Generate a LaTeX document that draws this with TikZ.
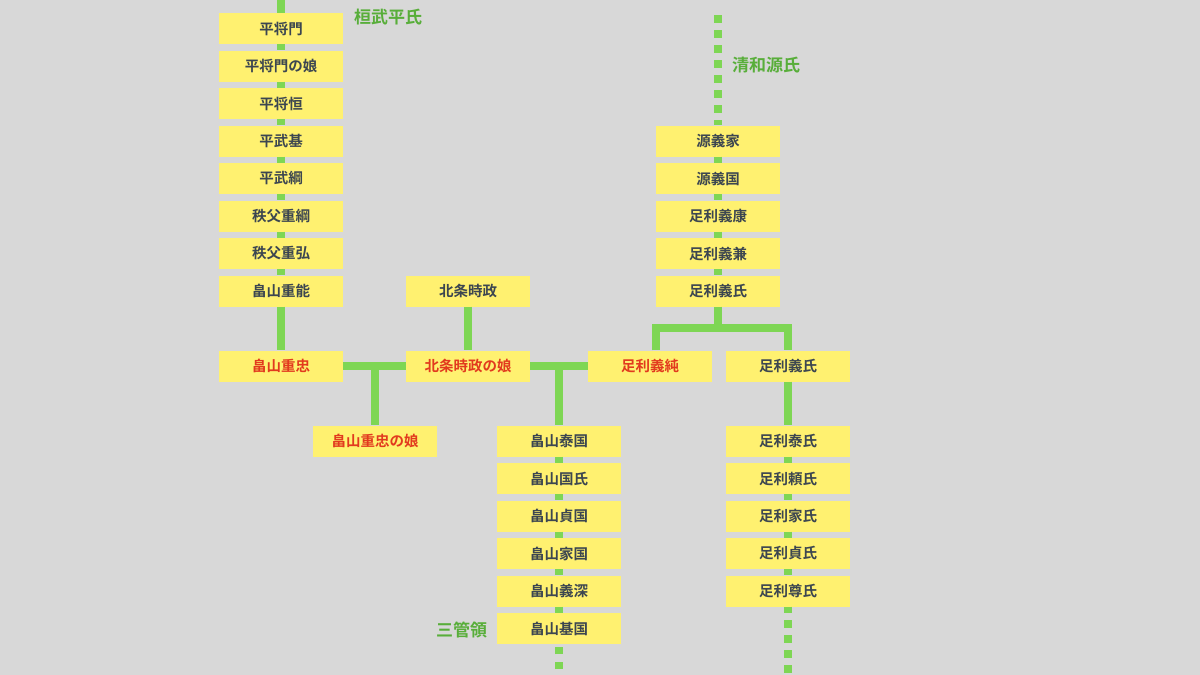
\documentclass[tikz,border=0pt]{standalone}
\usepackage{fontspec}
\setmainfont{Noto Sans CJK JP}[BoldFont={Noto Sans CJK JP Bold}]
\definecolor{bggrey}{RGB}{216,216,216}
\definecolor{boxyellow}{RGB}{255,241,112}
\definecolor{linegreen}{RGB}{126,214,84}
\definecolor{labelgreen}{RGB}{88,174,58}
\definecolor{namegrey}{RGB}{60,70,80}
\definecolor{namered}{RGB}{226,58,30}
\begin{document}
\begin{tikzpicture}[x=1pt, y=-1pt,
	person/.style={rectangle, fill=boxyellow, minimum width=124pt, minimum height=31pt, inner sep=0pt, text=namegrey, font=\bfseries\fontsize{14.5}{16}\selectfont},
	keyperson/.style={person, text=namered},
	clan/.style={anchor=west, inner sep=0pt, text=labelgreen, font=\bfseries\fontsize{17}{19}\selectfont},
	line/.style={draw=linegreen, line width=7.5pt},
	dotline/.style={line, dash pattern=on 7.5pt off 7.5pt}]
	\fill [bggrey] (0,0) rectangle (1200,675);
	\useasboundingbox (0,0) rectangle (1200,675);
	% Taira line
	\node [person] (hk1) at (281,28.5) {平将門};
	\node [person] (hk2) at (281,66) {平将門の娘};
	\node [person] (hk3) at (281,103.5) {平将恒};
	\node [person] (hk4) at (281,141) {平武基};
	\node [person] (hk5) at (281,178.5) {平武綱};
	\node [person] (hk6) at (281,216) {秩父重綱};
	\node [person] (hk7) at (281,253.5) {秩父重弘};
	\node [person] (hk8) at (281,291) {畠山重能};
	\node [keyperson] (shigetada) at (281,366) {畠山重忠};
	\node [keyperson] (smusume) at (375,441) {畠山重忠の娘};
	\node [clan] (kanmu) at (354,17) {桓武平氏};
	% Hojo
	\node [person] (tokimasa) at (468,291) {北条時政};
	\node [keyperson] (tmusume) at (468,366) {北条時政の娘};
	% Minamoto line
	\node [person] (gj1) at (718,141) {源義家};
	\node [person] (gj2) at (718,178.5) {源義国};
	\node [person] (gj3) at (718,216) {足利義康};
	\node [person] (gj4) at (718,253.5) {足利義兼};
	\node [person] (gj5) at (718,291) {足利義氏};
	\node [keyperson] (yoshizumi) at (650,366) {足利義純};
	\node [person] (yoshiuji) at (788,366) {足利義氏};
	\node [clan] (seiwa) at (732,65) {清和源氏};
	% Hatakeyama (Genji)
	\node [person] (hy1) at (559,441) {畠山泰国};
	\node [person] (hy2) at (559,478.5) {畠山国氏};
	\node [person] (hy3) at (559,516) {畠山貞国};
	\node [person] (hy4) at (559,553.5) {畠山家国};
	\node [person] (hy5) at (559,591) {畠山義深};
	\node [person] (hy6) at (559,628.5) {畠山基国};
	\node [clan] (kanrei) at (436,630) {三管領};
	% Ashikaga
	\node [person] (as1) at (788,441) {足利泰氏};
	\node [person] (as2) at (788,478.5) {足利頼氏};
	\node [person] (as3) at (788,516) {足利家氏};
	\node [person] (as4) at (788,553.5) {足利貞氏};
	\node [person] (as5) at (788,591) {足利尊氏};
	% free ends and joints
	\coordinate (topL) at (281,0);
	\coordinate (topR) at (718,15);
	\coordinate (botM) at (559,676);
	\coordinate (botR) at (788,676);
	\coordinate (j1) at (375,366);
	\coordinate (j2) at (559,366);
	\coordinate (br) at (718,328);
	\coordinate (brL) at (656,366);
	% connectors
	\draw [line] (topL) -- (hk1);
	\foreach \a/\b in {hk1/hk2, hk2/hk3, hk3/hk4, hk4/hk5, hk5/hk6, hk6/hk7, hk7/hk8, hk8/shigetada,
		gj1/gj2, gj2/gj3, gj3/gj4, gj4/gj5, hy1/hy2, hy2/hy3, hy3/hy4, hy4/hy5, hy5/hy6,
		yoshiuji/as1, as1/as2, as2/as3, as3/as4, as4/as5}
		\draw [line] (\a) -- (\b);
	\draw [line] (shigetada) -- (tmusume);
	\draw [line] (j1) -- (smusume);
	\draw [line] (tokimasa) -- (tmusume);
	\draw [line] (tmusume) -- (yoshizumi);
	\draw [line] (j2) -- (hy1);
	\draw [line] (gj5) -- (br);
	\draw [line] (brL |- yoshizumi.north) |- (br) -| (yoshiuji.north);
	\draw [dotline] (topR) -- (gj1);
	\draw [dotline, dash phase=8pt] (botM) -- (hy6);
	\draw [dotline, dash phase=1.5pt] (as5) -- (botR);
\end{tikzpicture}
\end{document}
